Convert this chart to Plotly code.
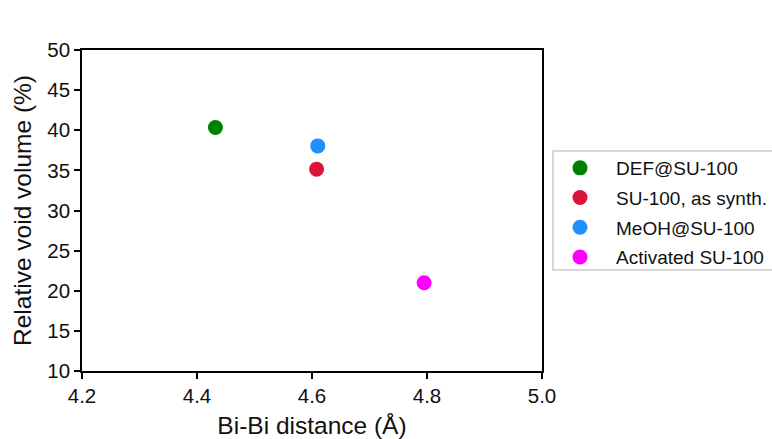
import plotly.graph_objects as go

names = ["DEF@SU-100", "SU-100, as synth.", "MeOH@SU-100", "Activated SU-100"]
bibi_distance = [4.432, 4.608, 4.610, 4.795]
void_volume = [40.35, 35.15, 38.05, 21.0]
colors = ["#008000", "#DC143C", "#1E90FF", "#FF00FF"]

x_ticks = [4.2, 4.4, 4.6, 4.8, 5.0]
x_ticklabels = ["4.2", "4.4", "4.6", "4.8", "5.0"]
y_ticks = [10, 15, 20, 25, 30, 35, 40, 45, 50]

FONT = "Liberation Sans, Arial, sans-serif"

fig = go.Figure()
for n, xv, yv, c in zip(names, bibi_distance, void_volume, colors):
    fig.add_trace(go.Scatter(x=[xv], y=[yv], mode="markers", name=n, legendgroup=n,
                             marker=dict(color=c, size=15, line=dict(width=0))))

fig.update_layout(
    width=772, height=439,
    margin=dict(l=82, r=230, t=50, b=68, autoexpand=False),
    paper_bgcolor="white", plot_bgcolor="white",
    font=dict(family=FONT, size=19, color="#111111"),
    showlegend=True,
    legend=dict(x=(544 - 82) / 460, y=(371 - 149) / 321, xanchor="left", yanchor="top",
                xref="paper", yref="paper",
                bgcolor="rgba(0,0,0,0)", borderwidth=0,
                font=dict(family=FONT, size=19, color="#111111"),
                itemwidth=62, tracegroupgap=2),
    shapes=[dict(type="rect", xref="paper", yref="paper",
                 x0=(553 - 82) / 460, x1=(790 - 82) / 460,
                 y0=(371 - 270) / 321, y1=(371 - 151) / 321,
                 line=dict(color="#cccccc", width=1.5), fillcolor="rgba(255,255,255,0)", layer="below")],
)
fig.update_xaxes(range=[4.2, 5.0], tickvals=x_ticks, ticktext=x_ticklabels,
                 showgrid=False, zeroline=False, showline=True, linecolor="black", linewidth=1.5,
                 mirror=True, ticks="outside", ticklen=6, tickwidth=1.5, tickcolor="black",
                 tickfont=dict(size=20.5),
                 title=dict(text="Bi-Bi distance (Å)", font=dict(size=24.5), standoff=11))
fig.update_yaxes(range=[10, 50], tickvals=y_ticks,
                 showgrid=False, zeroline=False, showline=True, linecolor="black", linewidth=1.5,
                 mirror=True, ticks="outside", ticklen=6, tickwidth=1.5, tickcolor="black",
                 tickfont=dict(size=20.5),
                 title=dict(text="Relative void volume (%)", font=dict(size=24.5), standoff=9))

fig.write_html("out.html")
